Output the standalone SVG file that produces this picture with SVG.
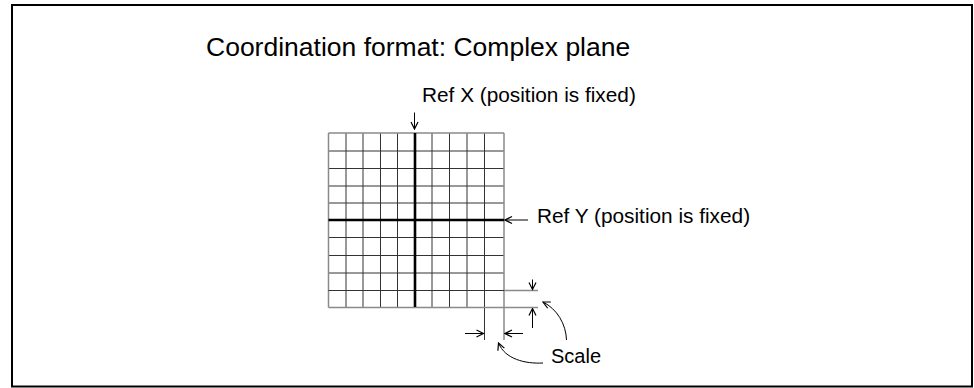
<svg xmlns="http://www.w3.org/2000/svg" width="974" height="388" viewBox="0 0 974 388">
<style>
text{font-family:"Liberation Sans",Arial,sans-serif;fill:#000}
.grid{stroke:#333;stroke-width:1;fill:none}
.edge{stroke:#8a8a8a;stroke-width:1.5;fill:none}
.axis{stroke:#000;stroke-width:2.6;fill:none}
.conn{stroke:#000;stroke-width:1;fill:none}
</style>
<defs>
<marker id="ah" markerUnits="userSpaceOnUse" markerWidth="10" markerHeight="10" viewBox="0 0 10 10" refX="9" refY="5" orient="auto">
<path d="M2,1.5 L9,5 L2,8.5" fill="none" stroke="#000" stroke-width="1.2"/>
</marker>
</defs>
<rect x="12" y="5" width="960" height="381.5" fill="#fff" stroke="#000" stroke-width="2"/>
<g id="title"><text x="206" y="56" font-size="26.5">Coordination format: Complex plane</text></g>
<g id="grid">
<path class="grid" d="M346,133V307.5M363,133V307.5M380.5,133V307.5M397.5,133V307.5M432,133V307.5M449.5,133V307.5M467,133V307.5M484.5,133V340"/>
<path class="grid" d="M328.5,151H504M328.5,168.5H504M328.5,186H504M328.5,203H504M328.5,237.5H504M328.5,255.5H504M328.5,273H504"/>
<path class="edge" d="M328.5,133H504M328.5,133V307.5M504,133V340M328.5,307.5H538M504,290.5H538"/>
<path class="grid" d="M328.5,290.5H504"/>
<path class="axis" d="M415,133V307M328.5,220H504"/>
</g>
<g id="labels">
<text x="422" y="101.5" font-size="20.8">Ref X (position is fixed)</text>
<text x="537" y="223" font-size="20.8">Ref Y (position is fixed)</text>
<text x="551" y="362.5" font-size="20">Scale</text>
</g>
<g id="connectors">
<path class="conn" d="M414.5,112.5V129" marker-end="url(#ah)"/>
<path class="conn" d="M528,220H505" marker-end="url(#ah)"/>
<path class="conn" d="M532.5,279.5V289.5" marker-end="url(#ah)"/>
<path class="conn" d="M532.5,328V308.5" marker-end="url(#ah)"/>
<path class="conn" d="M465,333.5H483.5" marker-end="url(#ah)"/>
<path class="conn" d="M523,333.5H505" marker-end="url(#ah)"/>
<path class="conn" d="M543,363C525,364 505,359 498.5,343" marker-end="url(#ah)"/>
<path class="conn" d="M566.5,340C566,324 557,309 543,302" marker-end="url(#ah)"/>
</g>
</svg>
